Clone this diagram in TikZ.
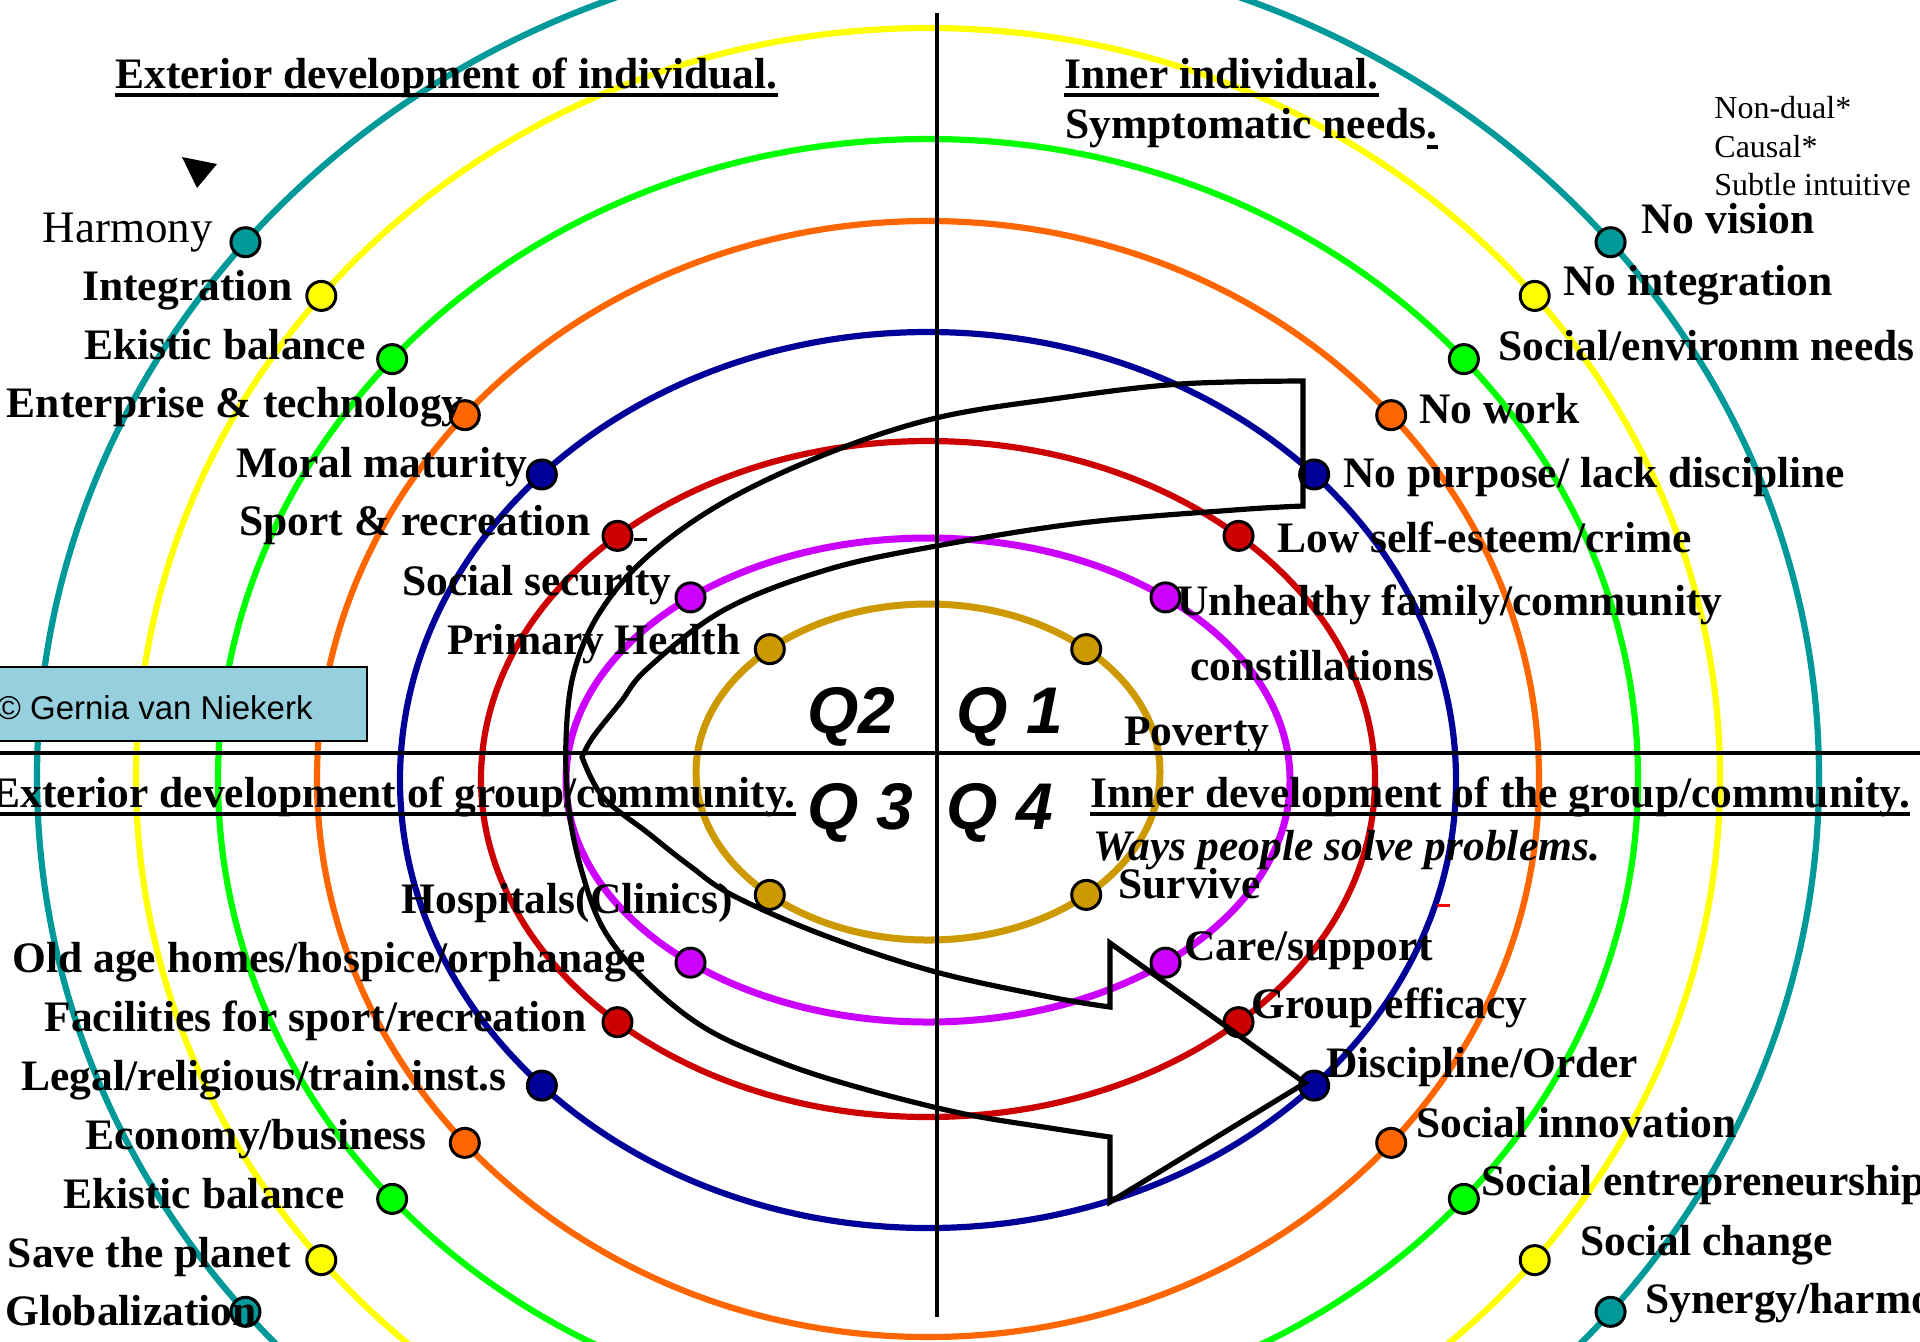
\documentclass[tikz,border=0pt]{standalone}
\usepackage{fontspec}
\setmainfont{Liberation Serif}
\newfontfamily\qfont{Liberation Sans}
\definecolor{ringteal}{RGB}{0,153,153}
\definecolor{ringyellow}{RGB}{255,255,0}
\definecolor{ringgreen}{RGB}{0,255,0}
\definecolor{ringorange}{RGB}{255,102,0}
\definecolor{ringblue}{RGB}{0,0,153}
\definecolor{ringred}{RGB}{204,0,0}
\definecolor{ringmagenta}{RGB}{204,0,255}
\definecolor{ringgold}{RGB}{204,153,0}
\definecolor{boxfill}{RGB}{150,208,222}
\begin{document}
\begin{tikzpicture}[x=0.5pt,y=-0.5pt,
  ring/.style={line width=3.1pt},
  innerring/.style={line width=3.5pt},
  axisline/.style={line width=2.3pt,black},
  spiral/.style={line width=2.6pt,black,line join=miter,miter limit=10},
  dot/.style={circle,draw=black,line width=1.5pt,fill=#1,minimum size=14.5pt,inner sep=0pt},
  lbl/.style={inner sep=0pt,font=\fontsize{21.75}{24}\selectfont\bfseries},
  plainlbl/.style={inner sep=0pt,font=\fontsize{22.5}{24}\selectfont},
  levellbl/.style={inner sep=0pt,anchor=base west,font=\fontsize{16}{18}\selectfont},
  quad/.style={inner sep=0pt,font=\fontsize{33}{36}\selectfont\qfont\bfseries\itshape},
  uline/.style={line width=2pt,black},
  lblleft/.style={lbl,anchor=base east},
  lblright/.style={lbl,anchor=base west},
]
\useasboundingbox (0,0) rectangle (1920,1341);
\clip (0,0) rectangle (1920,1341);

% ring centres
\coordinate (cTeal) at (928,777);
\coordinate (cYellow) at (928,778);
\coordinate (cGreen) at (928,779);
\coordinate (cOrange) at (928,779);
\coordinate (cBlue) at (928,780);
\coordinate (cRed) at (928,779);
\coordinate (cMagenta) at (928,780);
\coordinate (cGold) at (928,772);

% concentric rings
\draw[ring,ringteal] (cTeal) ellipse [x radius=891, y radius=832];
\draw[ring,ringyellow] (cYellow) ellipse [x radius=792, y radius=750];
\draw[ring,ringgreen] (cGreen) ellipse [x radius=710, y radius=640];
\draw[ring,ringorange] (cOrange) ellipse [x radius=611, y radius=558];
\draw[ring,ringblue] (cBlue) ellipse [x radius=528, y radius=448];
\draw[ring,ringred] (cRed) ellipse [x radius=447, y radius=338];
\draw[innerring,ringmagenta] (cMagenta) ellipse [x radius=362, y radius=242];
\draw[innerring,ringgold] (cGold) ellipse [x radius=232, y radius=168];

% quadrant axes
\draw[axisline] (937,13) -- (937,1317);
\draw[axisline] (0,753) -- (1920,753);

% dots, upper left
\node[dot=ringteal] (dHarmony) at ([shift={(220:891 and 832)}]cTeal) {};
\node[dot=ringyellow] (dIntegration) at ([shift={(220:792 and 750)}]cYellow) {};
\node[dot=ringgreen] (dEkisticA) at ([shift={(221:710 and 640)}]cGreen) {};
\node[dot=ringorange] (dEnterprise) at ([shift={(220.7:611 and 558)}]cOrange) {};
\node[dot=ringblue] (dMoral) at ([shift={(223:528 and 448)}]cBlue) {};
\node[dot=ringred] (dSport) at ([shift={(226:447 and 338)}]cRed) {};
\node[dot=ringmagenta] (dSecurity) at ([shift={(229:362 and 242)}]cMagenta) {};
\node[dot=ringgold] (dPrimary) at ([shift={(227:232 and 168)}]cGold) {};
% dots, upper right
\node[dot=ringteal] (dVision) at ([shift={(320:891 and 832)}]cTeal) {};
\node[dot=ringyellow] (dNoIntegration) at ([shift={(320:792 and 750)}]cYellow) {};
\node[dot=ringgreen] (dSocialNeeds) at ([shift={(319:710 and 640)}]cGreen) {};
\node[dot=ringorange] (dWork) at ([shift={(319.3:611 and 558)}]cOrange) {};
\node[dot=ringblue] (dPurpose) at ([shift={(317:528 and 448)}]cBlue) {};
\node[dot=ringred] (dEsteem) at ([shift={(314:447 and 338)}]cRed) {};
\node[dot=ringmagenta] (dFamily) at ([shift={(311:362 and 242)}]cMagenta) {};
\node[dot=ringgold] (dPoverty) at ([shift={(313:232 and 168)}]cGold) {};
% dots, lower left
\node[dot=ringteal] (dGlobal) at ([shift={(140:891 and 832)}]cTeal) {};
\node[dot=ringyellow] (dPlanet) at ([shift={(140:792 and 750)}]cYellow) {};
\node[dot=ringgreen] (dEkisticB) at ([shift={(139:710 and 640)}]cGreen) {};
\node[dot=ringorange] (dEconomy) at ([shift={(139.3:611 and 558)}]cOrange) {};
\node[dot=ringblue] (dLegal) at ([shift={(137:528 and 448)}]cBlue) {};
\node[dot=ringred] (dFacilities) at ([shift={(134:447 and 338)}]cRed) {};
\node[dot=ringmagenta] (dOldAge) at ([shift={(131:362 and 242)}]cMagenta) {};
\node[dot=ringgold] (dHospitals) at ([shift={(133:232 and 168)}]cGold) {};
% dots, lower right
\node[dot=ringteal] (dSynergy) at ([shift={(40:891 and 832)}]cTeal) {};
\node[dot=ringyellow] (dChange) at ([shift={(40:792 and 750)}]cYellow) {};
\node[dot=ringgreen] (dEntrepreneur) at ([shift={(41:710 and 640)}]cGreen) {};
\node[dot=ringorange] (dInnovation) at ([shift={(40.7:611 and 558)}]cOrange) {};
\node[dot=ringblue] (dDiscipline) at ([shift={(43:528 and 448)}]cBlue) {};
\node[dot=ringred] (dEfficacy) at ([shift={(46:447 and 338)}]cRed) {};
\node[dot=ringmagenta] (dCare) at ([shift={(49:362 and 242)}]cMagenta) {};
\node[dot=ringgold] (dSurvive) at ([shift={(47:232 and 168)}]cGold) {};

% stray marks
\draw[line width=1.5pt] (634,539) -- (647,539);
\draw[line width=1.5pt,red] (1437,905) -- (1450,905);

% the spiral arrow
\coordinate (tailTop) at (1303,381);
\coordinate (tailBottom) at (1303,506);
\coordinate (cusp) at (582,757);
\coordinate (headTip) at (1305,1083);
\draw[spiral] (tailTop)
  -- plot[smooth,tension=0.6] coordinates {(1303,381) (1180,384) (1060,398) (936,418) (826,454) (724,502) (648,556) (600,612) (574,672) (566,740) (569,810) (582,872) (604,930) (645,980) (705,1028) (780,1062) (857,1087) (960,1113) (1050,1128) (1110,1137)}
  -- (1110,1202) -- (headTip) -- (1110,943) -- (1110,1007)
  -- plot[smooth,tension=0.6] coordinates {(1110,1007) (1050,997) (936,972) (826,936) (734,896) (690,866) (648,833) (603,797) (582,757)}
  -- plot[smooth,tension=0.6] coordinates {(582,757) (593,737) (620,703) (648,668) (724,610) (826,570) (936,546) (1081,523) (1234,510) (1303,506)}
  -- cycle;

% copyright box
\path[draw=black,line width=1.25pt,fill=boxfill] (-10,667) rectangle (367,741);
\node[inner sep=0pt,anchor=base east,font=\fontsize{16.5}{18}\selectfont\qfont] (copyright) at (313,719) {© Gernia van Niekerk};

% small pointer
\fill (182,157) -- (217,164) -- (197,188) -- cycle;

% quadrant headings
\node[lblright] (hExtInd) at (115,88) {Exterior development of individual.};
\draw[uline] ([yshift=-3.25pt]hExtInd.base west) -- ([yshift=-3.25pt]hExtInd.base east);
\node[lblright] (hInnerInd) at (1064,88) {Inner individual.};
\draw[uline] ([yshift=-3.25pt]hInnerInd.base west) -- ([yshift=-3.25pt]hInnerInd.base east);
\node[lblright] (hSympt) at (1065,138) {Symptomatic needs\makebox[0pt][l]{\rule[-5.5pt]{0.25em}{2pt}}.};
\node[lblleft] (hExtGroup) at (796,807) {Exterior development of group/community.};
\draw[uline] ([yshift=-3.25pt]hExtGroup.base west) -- ([yshift=-3.25pt]hExtGroup.base east);
\node[lblright] (hInnerGroup) at (1090,807) {Inner development of the group/community.};
\draw[uline] ([yshift=-3.25pt]hInnerGroup.base west) -- ([yshift=-3.25pt]hInnerGroup.base east);
\node[lblright,font=\fontsize{21.75}{24}\selectfont\bfseries\itshape] (hWays) at (1093,860) {Ways people solve problems.};

% level names
\node[levellbl] (lvNonDual) at (1714,118) {Non-dual*};
\node[levellbl] (lvCausal) at (1714,157) {Causal*};
\node[levellbl] (lvSubtle) at (1714,195) {Subtle intuitive};

% quadrant numbers
\node[quad,anchor=base east] (qTwo) at (896,733) {Q2};
\node[quad,anchor=base west] (qOne) at (956,733) {Q 1};
\node[quad,anchor=base east] (qThree) at (914,829) {Q 3};
\node[quad,anchor=base west] (qFour) at (946,829) {Q 4};

% upper left labels
\node[plainlbl,anchor=base east] (tHarmony) at (213,242) {Harmony};
\node[lblleft] (tIntegration) at (293,300) {Integration};
\node[lblleft] (tEkisticA) at (366,359) {Ekistic balance};
\node[lblleft] (tEnterprise) at (464,417) {Enterprise \& technology};
\node[lblleft] (tMoral) at (528,477) {Moral maturity};
\node[lblleft] (tSport) at (591,535) {Sport \& recreation};
\node[lblleft] (tSecurity) at (672,595) {Social security};
\node[lblleft] (tPrimary) at (741,654) {Primary Health};
% lower left labels
\node[lblleft] (tHospitals) at (733,913) {Hospitals(Clinics)};
\node[lblleft] (tOldAge) at (646,972) {Old age homes/hospice/orphanage};
\node[lblleft] (tFacilities) at (587,1031) {Facilities for sport/recreation};
\node[lblleft] (tLegal) at (507,1090) {Legal/religious/train.inst.s};
\node[lblleft] (tEconomy) at (427,1149) {Economy/business};
\node[lblleft] (tEkisticB) at (345,1208) {Ekistic balance};
\node[lblleft] (tPlanet) at (291,1267) {Save the planet};
\node[lblleft] (tGlobal) at (257,1325) {Globalization};
% upper right labels
\node[lblright] (tVision) at (1641,233) {No vision};
\node[lblright] (tNoIntegration) at (1563,295) {No integration};
\node[lblright] (tSocialNeeds) at (1498,360) {Social/environm needs};
\node[lblright] (tWork) at (1419,423) {No work};
\node[lblright] (tPurpose) at (1343,487) {No purpose/ lack discipline};
\node[lblright] (tEsteem) at (1277,552) {Low self-esteem/crime};
\node[lblright] (tFamily) at (1177,615) {Unhealthy family/community};
\node[lblright] (tConst) at (1190,680) {constillations};
\node[lblright] (tPoverty) at (1124,745) {Poverty};
% lower right labels
\node[lblright] (tSurvive) at (1118,898) {Survive};
\node[lblright] (tCare) at (1184,960) {Care/support};
\node[lblright] (tEfficacy) at (1251,1018) {Group efficacy};
\node[lblright] (tDiscipline) at (1326,1077) {Discipline/Order};
\node[lblright] (tInnovation) at (1416,1137) {Social innovation};
\node[lblright] (tEntrepreneur) at (1481,1195) {Social entrepreneurship};
\node[lblright] (tChange) at (1580,1255) {Social change};
\node[lblright] (tSynergy) at (1645,1313) {Synergy/harmony};
\end{tikzpicture}
\end{document}
